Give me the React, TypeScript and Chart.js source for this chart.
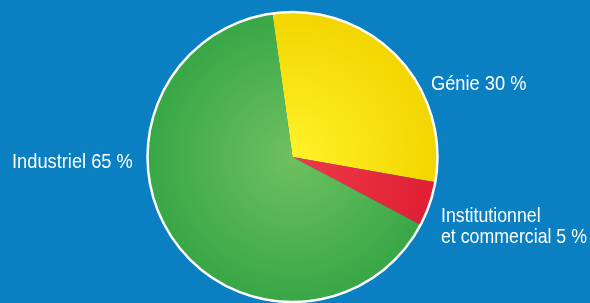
import React, { useEffect, useRef } from "react";
import { Chart, registerables } from "chart.js";

Chart.register(...registerables);

const categories = ["Génie 30 %", "Institutionnel\net commercial 5 %", "Industriel 65 %"];
const values = [30, 5, 65];
const innerColors = ["#fff22a", "#ee3a48", "#6fc060"];
const outerColors = ["#f2d500", "#e01f35", "#38a746"];
const BG = "#0a7fc2";
const FONT = "'Liberation Sans', 'DejaVu Sans', sans-serif";

export default function App() {
  const ref = useRef<HTMLCanvasElement | null>(null);
  useEffect(() => {
    if (!ref.current) return;
    const grad = (colorsIn: string[], colorsOut: string[]) => (ctx: any) => {
      const chart = ctx.chart;
      const a = chart.chartArea;
      if (!a) return colorsOut[ctx.dataIndex];
      const cx = (a.left + a.right) / 2;
      const cy = (a.top + a.bottom) / 2;
      const r = Math.min(a.right - a.left, a.bottom - a.top) / 2;
      const g = chart.ctx.createRadialGradient(cx, cy, 0, cx, cy, r);
      g.addColorStop(0, colorsIn[ctx.dataIndex]);
      g.addColorStop(1, colorsOut[ctx.dataIndex]);
      return g;
    };
    const labelPlugin = {
      id: "labels",
      beforeDraw(chart: any) {
        const c = chart.ctx;
        c.save();
        c.fillStyle = BG;
        c.fillRect(0, 0, chart.width, chart.height);
        c.restore();
      },
      afterDatasetsDraw(chart: any) {
        const c = chart.ctx;
        const arc = chart.getDatasetMeta(0).data[0];
        c.save();
        c.beginPath();
        c.arc(arc.x, arc.y, arc.outerRadius, 0, Math.PI * 2);
        c.strokeStyle = "#ffffff";
        c.lineWidth = 2.5;
        c.stroke();
        c.restore();
        const pos = [
          [431, 90],
          [441, 222],
          [12, 168],
        ];
        const sxs = [0.87, 0.845, 0.87];
        categories.forEach((lab, i) => {
          lab.split("\n").forEach((line, j) => {
            c.save();
            c.translate(pos[i][0], pos[i][1] + j * 21);
            c.scale(sxs[i], 1);
            c.fillStyle = "#ffffff";
            c.font = `21px ${FONT}`;
            c.textBaseline = "alphabetic";
            c.textAlign = "left";
            c.fillText(line, 0, 0);
            c.restore();
          });
        });
      },
    };
    const chart = new Chart(ref.current, {
      type: "pie",
      data: {
        labels: categories,
        datasets: [
          {
            data: values,
            backgroundColor: grad(innerColors, outerColors) as any,
            borderWidth: 0,
          },
        ],
      },
      options: {
        animation: false,
        responsive: false,
        rotation: -8,
        layout: { padding: { top: 12, bottom: 1, left: 0, right: 5 } },
        plugins: { legend: { display: false }, tooltip: { enabled: false } },
      },
      plugins: [labelPlugin],
    });
    return () => chart.destroy();
  }, []);
  return (
    <div style={{ position: "fixed", left: 0, top: 0, width: 590, height: 303, background: BG }}>
      <canvas ref={ref} width={590} height={303} style={{ display: "block" }} />
    </div>
  );
}
